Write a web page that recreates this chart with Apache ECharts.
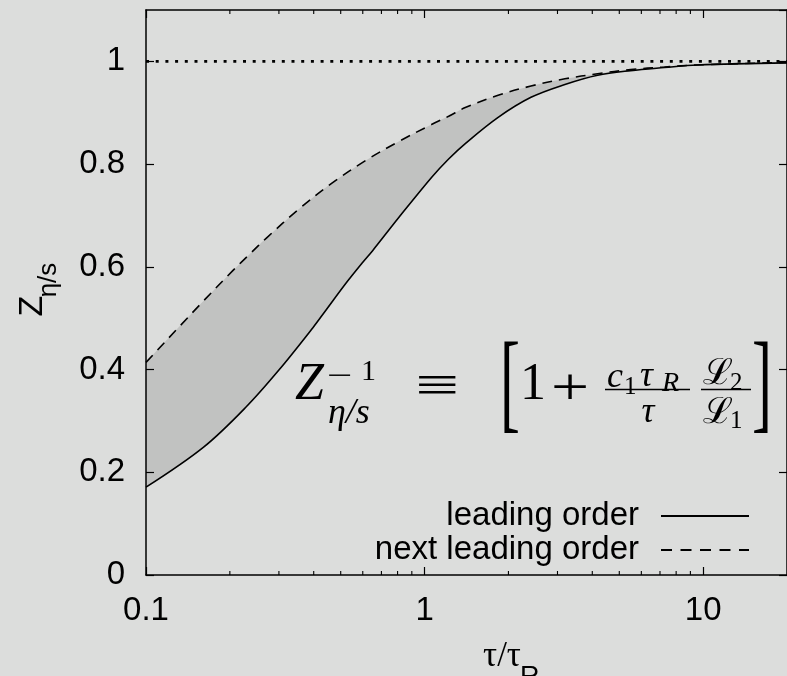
<!DOCTYPE html>
<html>
<head>
<meta charset="utf-8">
<script src="https://cdn.jsdelivr.net/npm/echarts@6/dist/echarts.min.js"></script>
<style>
  html, body { margin: 0; padding: 0; background: #dcdddc; }
  #chart { width: 787px; height: 676px; }
</style>
</head>
<body>
<div id="chart"></div>
<script>
// Leading order Z_{eta/s} against tau/tau_R
const leadingTau = [0.1, 0.161, 0.2295, 0.301, 0.398, 0.443, 0.522, 0.596, 0.652, 0.808, 1.059, 1.22, 1.40, 1.837, 2.41, 3.19, 4.18, 5.49, 7.26, 9.52, 20];
const leadingZ   = [0.171, 0.249, 0.328, 0.400, 0.482, 0.516, 0.568, 0.607, 0.632, 0.696, 0.774, 0.810, 0.840, 0.891, 0.930, 0.955, 0.973, 0.982, 0.988, 0.993, 0.997];

// Next leading order Z_{eta/s}
const nextTau = [0.1, 0.156, 0.2045, 0.235, 0.2705, 0.355, 0.465, 0.615, 0.808, 1.059, 1.22, 1.40, 1.837, 2.41, 3.19, 4.18, 5.49, 7.26, 9.52, 20];
const nextZ   = [0.414, 0.526, 0.592, 0.624, 0.656, 0.713, 0.763, 0.807, 0.844, 0.877, 0.893, 0.910, 0.934, 0.952, 0.966, 0.976, 0.984, 0.989, 0.993, 0.998];

// Reference level Z = 1
const unityTau = [0.1, 20];
const unityZ   = [1, 1];

// Axis ticks and labels
const xMinorTicks = [0.2, 0.3, 0.4, 0.5, 0.6, 0.7, 0.8, 0.9, 2, 3, 4, 5, 6, 7, 8, 9];
const xTickLabels = ['0.1', '1', '10'];
const yTickLabels = ['0', '0.2', '0.4', '0.6', '0.8', '1'];

const seriesNames = ['leading order', 'next leading order'];

const INK = '#000';
const PAPER = '#dcdddc';
const BAND = '#c1c2c1';
const SANS = '"Liberation Sans", Arial, sans-serif';
const SERIF = '"Liberation Serif", "DejaVu Serif", serif';
const SMOOTH = 0.35;

const zip = (xs, ys) => xs.map((x, i) => [x, ys[i]]);

const chart = echarts.init(document.getElementById('chart'), null, { renderer: 'canvas' });

function xLabel(v) {
  const hit = xTickLabels.find(t => Math.abs(Math.log10(+t) - Math.log10(v)) < 1e-6);
  return hit || '';
}
function yLabel(v) {
  const hit = yTickLabels.find(t => Math.abs(+t - v) < 1e-6);
  return hit || '';
}

const axisLine = { show: true, onZero: false, lineStyle: { color: INK, width: 1.5 } };
const axisTick = { show: true, inside: true, length: 8, lineStyle: { color: INK, width: 1.2 } };

function txt(text, x, y, size, opts) {
  opts = opts || {};
  return {
    type: 'text', x: x, y: y, z: 50,
    scaleX: opts.scaleX || 1, scaleY: opts.scaleY || 1,
    rotation: opts.rotation || 0,
    style: {
      text: text,
      fontSize: size,
      fontFamily: opts.family || SERIF,
      fontStyle: opts.italic ? 'italic' : 'normal',
      fill: INK,
      align: opts.align || 'left',
      verticalAlign: 'middle'
    }
  };
}
function seg(x1, y1, x2, y2, w, dash) {
  return {
    type: 'line', z: 50,
    shape: { x1: x1, y1: y1, x2: x2, y2: y2 },
    style: { stroke: INK, lineWidth: w, lineDash: dash || null }
  };
}

// Fill-only line series used to shade the band between the curves
function areaSeries(data, color, z) {
  return {
    type: 'line', z: z, data: data, symbol: 'none', silent: true, smooth: SMOOTH,
    lineStyle: { width: 0, opacity: 0 },
    areaStyle: { color: color, opacity: 1, origin: 'start' }
  };
}

const option = {
  backgroundColor: PAPER,
  animation: false,
  grid: { left: 146, top: 10, right: -3, bottom: 101, containLabel: false },
  xAxis: [
    {
      type: 'log', logBase: 10, min: 0.1, max: 20, position: 'bottom', z: 10,
      axisLine: axisLine, axisTick: axisTick, splitLine: { show: false },
      axisLabel: { fontSize: 33, fontFamily: SANS, color: INK, margin: 19, showMaxLabel: false, formatter: xLabel }
    },
    {
      type: 'log', logBase: 10, min: 0.1, max: 20, position: 'top', z: 10,
      axisLine: axisLine, axisTick: axisTick, splitLine: { show: false },
      axisLabel: { show: false }
    }
  ],
  yAxis: [
    {
      type: 'value', min: 0, max: 1.1, interval: 0.2, position: 'left', z: 10,
      axisLine: axisLine, axisTick: axisTick, splitLine: { show: false },
      axisLabel: { fontSize: 33, fontFamily: SANS, color: INK, margin: 21, showMaxLabel: false, formatter: yLabel }
    },
    {
      type: 'value', min: 0, max: 1.1, interval: 0.2, position: 'right', z: 10,
      axisLine: axisLine, axisTick: axisTick, splitLine: { show: false },
      axisLabel: { show: false }
    }
  ],
  series: [
    // band: grey under the upper curve, then paper colour under the lower curve
    areaSeries(zip(nextTau, nextZ), BAND, 1),
    areaSeries(zip(leadingTau, leadingZ), PAPER, 2),
    {
      // minor log ticks on bottom and top axes
      type: 'custom', z: 11, clip: false,
      data: xMinorTicks.map(v => [v, 0]),
      encode: { x: 0, y: 1 },
      renderItem: function (params, api) {
        const v = api.value(0);
        const b = api.coord([v, 0]);
        const t = api.coord([v, 1.1]);
        return {
          type: 'group',
          children: [
            { type: 'line', shape: { x1: b[0], y1: b[1], x2: b[0], y2: b[1] - 4 }, style: { stroke: INK, lineWidth: 1.1 } },
            { type: 'line', shape: { x1: t[0], y1: t[1], x2: t[0], y2: t[1] + 4 }, style: { stroke: INK, lineWidth: 1.1 } }
          ]
        };
      }
    },
    {
      type: 'line', name: 'unity', z: 4, data: zip(unityTau, unityZ),
      symbol: 'none', silent: true,
      lineStyle: { color: INK, width: 2.6, type: [3, 6.7], cap: 'butt' }
    },
    {
      type: 'line', name: seriesNames[0], z: 5, data: zip(leadingTau, leadingZ),
      symbol: 'none', smooth: SMOOTH,
      lineStyle: { color: INK, width: 1.6, type: 'solid' }
    },
    {
      type: 'line', name: seriesNames[1], z: 5, data: zip(nextTau, nextZ),
      symbol: 'none', smooth: SMOOTH,
      lineStyle: { color: INK, width: 1.6, type: [10, 7] }
    }
  ],
  graphic: {
    elements: [
      // axis titles
      txt('Z', 33, 306, 34, { family: SANS, rotation: Math.PI / 2, align: 'center' }),
      txt('η/s', 49, 280, 26, { family: SANS, rotation: Math.PI / 2, align: 'center' }),
      txt('τ/τ', 502, 657, 35, { family: SERIF, align: 'center' }),
      txt('R', 520, 678, 27, { family: SANS }),

      // legend
      txt(seriesNames[0], 639, 516, 33, { family: SANS, align: 'right' }),
      seg(661, 516, 749, 516, 1.8),
      txt(seriesNames[1], 639, 550, 33, { family: SANS, align: 'right' }),
      seg(661, 550, 749, 550, 1.8, [11, 8.5]),

      // formula: Z^{-1}_{eta/s} = [1 + c1 tauR / tau * L2 / L1]
      txt('Z', 295, 385, 52, { italic: true }),
      txt('−', 340, 377, 30, { align: 'center', scaleX: 1.5 }),
      txt('1', 361, 372, 30),
      txt('η/s', 328, 414, 36, { italic: true }),
      txt('≡', 437, 388, 52, { align: 'center', scaleX: 1.5 }),
      txt('[', 510, 389, 100, { align: 'center', scaleX: 0.6, scaleY: 1.1 }),
      txt('1', 520, 385, 52),
      txt('+', 570, 390, 52, { align: 'center', scaleX: 1.3 }),
      txt('c', 607, 378, 36, { italic: true }),
      txt('1', 624, 387, 25),
      txt('τ', 640, 377, 36, { italic: true }),
      txt('R', 662, 384, 28, { italic: true }),
      seg(605, 389.5, 690, 389.5, 1.4),
      txt('τ', 648, 413, 36, { italic: true, align: 'center' }),
      txt('ℒ', 703, 375, 36),
      txt('2', 730, 383, 25),
      seg(701, 389.5, 751, 389.5, 1.4),
      txt('ℒ', 703, 414, 36),
      txt('1', 730, 421, 25),
      txt(']', 762, 389, 100, { align: 'center', scaleX: 0.6, scaleY: 1.1 })
    ]
  }
};

chart.setOption(option);
</script>
</body>
</html>
